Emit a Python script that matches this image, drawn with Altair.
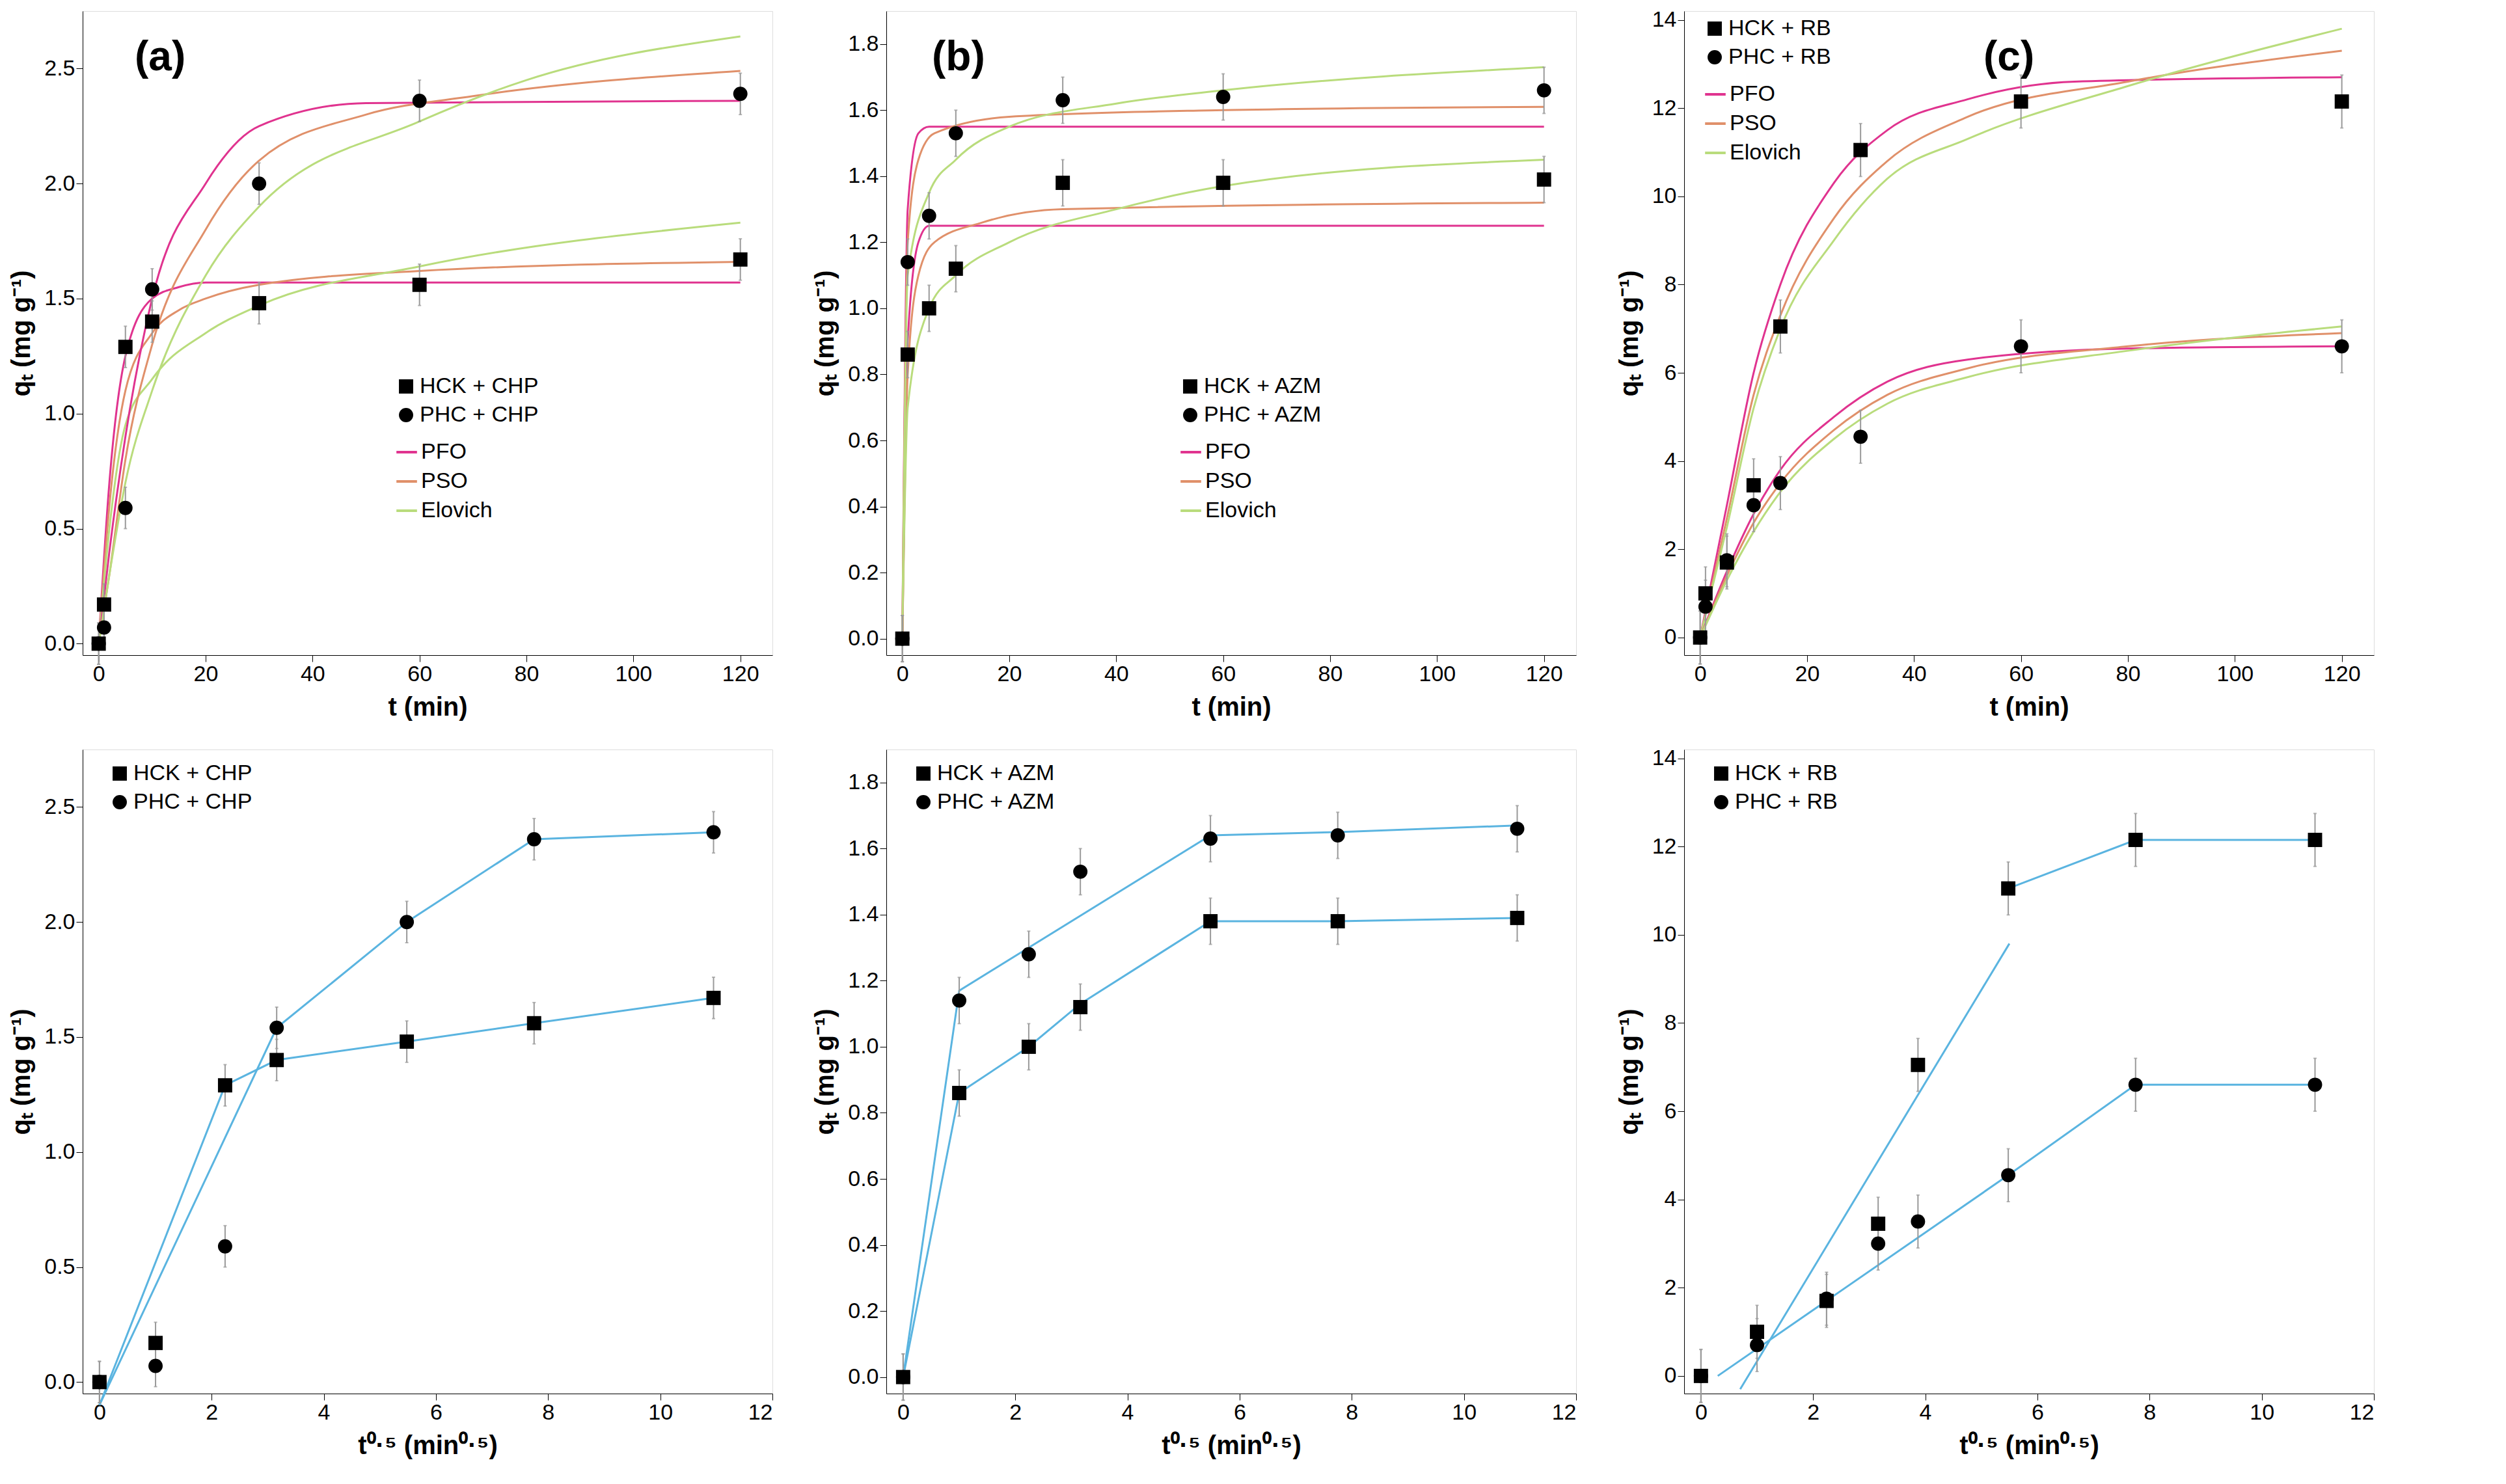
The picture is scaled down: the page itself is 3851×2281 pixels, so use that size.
import altair as alt
import pandas as pd

# ---- data ----
t = [0, 1, 5, 10, 30, 60, 120]
t_c = [0, 1, 5, 10, 15, 30, 60, 120]
sqt = [0, 1, 2.24, 3.16, 5.48, 7.75, 10.95]
sqt_c = [0, 1, 2.24, 3.16, 3.87, 5.48, 7.75, 10.95]

hck_chp = [0, 0.17, 1.29, 1.40, 1.48, 1.56, 1.67]
phc_chp = [0, 0.07, 0.59, 1.54, 2.00, 2.36, 2.39]
hck_azm = [0, 0.86, 1.00, 1.12, 1.38, 1.38, 1.39]
phc_azm = [0, 1.14, 1.28, 1.53, 1.63, 1.64, 1.66]
hck_rb = [0, 1.0, 1.7, 3.45, 7.05, 11.05, 12.15, 12.15]
phc_rb = [0, 0.7, 1.75, 3.0, 3.5, 4.55, 6.6, 6.6]
err_a, err_b, err_c = 0.09, 0.07, 0.6

# fitted curves (t, q)
curves_a = {
    ("HCK", "PFO"): ([0, 2, 5, 10, 15, 20, 30, 120], [0, 0.7, 1.25, 1.5, 1.55, 1.57, 1.57, 1.57]),
    ("HCK", "PSO"): ([0, 2, 5, 10, 15, 20, 30, 60, 120], [0, 0.6, 1.1, 1.35, 1.45, 1.5, 1.56, 1.62, 1.66]),
    ("HCK", "Elovich"): ([0, 2, 5, 10, 20, 30, 60, 120], [0, 0.5, 0.95, 1.15, 1.35, 1.47, 1.64, 1.83]),
    ("PHC", "PFO"): ([0, 2, 5, 10, 20, 30, 50, 120], [0, 0.4, 0.9, 1.5, 2.0, 2.25, 2.35, 2.36]),
    ("PHC", "PSO"): ([0, 2, 5, 10, 20, 30, 50, 70, 120], [0, 0.3, 0.8, 1.3, 1.8, 2.1, 2.3, 2.38, 2.49]),
    ("PHC", "Elovich"): ([0, 2, 5, 10, 20, 30, 60, 80, 120], [0, 0.3, 0.7, 1.1, 1.6, 1.9, 2.27, 2.45, 2.64]),
}
curves_b = {
    ("HCK", "PFO"): ([0, 1, 3, 5, 120], [0, 0.9, 1.2, 1.25, 1.25]),
    ("HCK", "PSO"): ([0, 1, 3, 6, 15, 30, 120], [0, 0.8, 1.1, 1.2, 1.26, 1.3, 1.32]),
    ("HCK", "Elovich"): ([0, 1, 5, 10, 20, 40, 60, 120], [0, 0.7, 1.0, 1.1, 1.2, 1.3, 1.37, 1.45]),
    ("PHC", "PFO"): ([0, 1, 3, 5, 120], [0, 1.3, 1.53, 1.55, 1.55]),
    ("PHC", "PSO"): ([0, 1, 3, 6, 20, 60, 120], [0, 1.2, 1.45, 1.53, 1.58, 1.6, 1.61]),
    ("PHC", "Elovich"): ([0, 1, 5, 10, 20, 40, 60, 120], [0, 1.1, 1.35, 1.45, 1.55, 1.62, 1.66, 1.73]),
}
tc = [0, 5, 10, 15, 25, 35, 50, 80, 120]
curves_c = {
    ("HCK", "PFO"): ([0, 5, 10, 15, 25, 35, 50, 70, 120], [0, 3, 6, 8, 10.3, 11.5, 12.2, 12.6, 12.7]),
    ("HCK", "PSO"): (tc, [0, 2.7, 5.5, 7.3, 9.5, 10.8, 11.8, 12.6, 13.3]),
    ("HCK", "Elovich"): (tc, [0, 2.5, 5.2, 7, 9, 10.4, 11.3, 12.5, 13.8]),
    ("PHC", "PFO"): (tc, [0, 1.5, 2.8, 3.8, 5, 5.8, 6.3, 6.55, 6.6]),
    ("PHC", "PSO"): (tc, [0, 1.4, 2.6, 3.5, 4.7, 5.5, 6.1, 6.6, 6.9]),
    ("PHC", "Elovich"): (tc, [0, 1.3, 2.4, 3.3, 4.5, 5.3, 5.9, 6.5, 7.05]),
}

# intraparticle diffusion segments (sqrt t, q)
ipd_a = {"s1": ([0, 2.24, 3.16, 5.48, 7.75, 10.95], [-0.1, 1.29, 1.40, 1.48, 1.56, 1.67]),
         "s2": ([0, 3.16, 5.48, 7.75, 10.95], [-0.1, 1.54, 2.0, 2.36, 2.39])}
ipd_b = {"s1": ([0, 1, 2.24, 3.16, 5.48, 7.75, 10.95], [0, 0.86, 1.0, 1.13, 1.38, 1.38, 1.39]),
         "s2": ([0, 1, 5.48, 7.75, 10.95], [0, 1.17, 1.64, 1.65, 1.67])}
ipd_c = {"s1": ([0.7, 5.5], [-0.3, 9.8]),
         "s2": ([5.48, 7.75, 10.95], [11.05, 12.15, 12.15]),
         "s3": ([0.3, 5.48, 7.75, 10.95], [0, 4.55, 6.6, 6.6])}

FONT = "Liberation Sans"
models = ["PFO", "PSO", "Elovich"]
model_colors = ["#e0338f", "#e0906a", "#b9dc7c"]
QT = "q\u209c (mg g\u207b\u00b9)"


def points_df(x, hck, phc, drug, err):
    rows = []
    for xi, a, b in zip(x, hck, phc):
        rows.append({"x": xi, "q": a, "s": "HCK + " + drug, "lo": a - err, "hi": a + err})
        rows.append({"x": xi, "q": b, "s": "PHC + " + drug, "lo": b - err, "hi": b + err})
    return pd.DataFrame(rows)


def axis(title, step, fmt):
    return alt.Axis(title=title, tickMinStep=step, format=fmt, grid=False,
                    labelFont=FONT, titleFont=FONT, labelFontSize=34, titleFontSize=40,
                    titleFontWeight="bold", tickSize=10, domainColor="black", titlePadding=14,
                    tickColor="black", labelColor="black", titleColor="black")


def legend(x, y, **kw):
    return alt.Legend(title=None, orient="none", legendX=x, legendY=y, labelLimit=0,
                      labelFont=FONT, labelFontSize=34, rowPadding=10, **kw)


def panel(x, hck, phc, drug, err, ydom, ystep, yfmt, xdom, xstep, xtitle,
          curves=None, segs=None, label=None, lx=0, ly=0, cx=0, cy=0):
    pts = points_df(x, hck, phc, drug, err)
    X = alt.X("x:Q", scale=alt.Scale(domain=xdom, nice=False), axis=axis(xtitle, xstep, "d"))
    Y = alt.Y("q:Q", scale=alt.Scale(domain=ydom, nice=False), axis=axis(QT, ystep, yfmt))
    layers = []
    if curves:
        rows = []
        for (s, m), (xs, qs) in curves.items():
            for xi, qi in zip(xs, qs):
                rows.append({"x": xi, "q": qi, "m": m, "g": s + m})
        layers.append(alt.Chart(pd.DataFrame(rows)).mark_line(interpolate="monotone", strokeWidth=3).encode(
            x=X, y=Y, detail="g:N",
            color=alt.Color("m:N", scale=alt.Scale(domain=models, range=model_colors),
                            legend=legend(cx, cy + 100, symbolType="stroke", symbolStrokeWidth=4,
                                          symbolSize=1000))))
    if segs:
        rows = []
        for g, (xs, qs) in segs.items():
            for xi, qi in zip(xs, qs):
                rows.append({"x": xi, "q": qi, "g": g})
        layers.append(alt.Chart(pd.DataFrame(rows)).mark_line(color="#5ab4e0", strokeWidth=3).encode(
            x=X, y=Y, detail="g:N"))
    layers.append(alt.Chart(pts).mark_errorbar(ticks=True, color="#999999", thickness=2).encode(
        x=X, y=alt.Y("lo:Q", scale=alt.Scale(domain=ydom, nice=False), axis=axis(QT, ystep, yfmt)),
        y2="hi:Q"))
    layers.append(alt.Chart(pts).mark_point(filled=True, size=480, opacity=1).encode(
        x=X, y=Y,
        shape=alt.Shape("s:N", scale=alt.Scale(domain=["HCK + " + drug, "PHC + " + drug],
                                               range=["square", "circle"]),
                        legend=legend(cx, cy, symbolFillColor="black", symbolStrokeColor="black",
                                      symbolSize=480)),
        color=alt.value("black")))
    if label:
        layers.append(alt.Chart(pd.DataFrame({"l": [label]})).mark_text(
            font=FONT, fontSize=64, fontWeight="bold", align="left", baseline="top").encode(
            text="l:N", x=alt.value(lx), y=alt.value(ly)))
    return alt.layer(*layers).resolve_scale(color="independent", shape="independent").properties(
        width=1060, height=990)


TX = "t (min)"
SX = "t\u2070\u00b7\u2075 (min\u2070\u00b7\u2075)"
pa = panel(t, hck_chp, phc_chp, "CHP", err_a, [-0.05, 2.75], 0.5, ".1f", [-3, 126], 20, TX,
           curves=curves_a, label="(a)", lx=80, ly=40, cx=480, cy=560)
pb = panel(t, hck_azm, phc_azm, "AZM", err_b, [-0.05, 1.9], 0.2, ".1f", [-3, 126], 20, TX,
           curves=curves_b, label="(b)", lx=70, ly=40, cx=450, cy=560)
pc = panel(t_c, hck_rb, phc_rb, "RB", err_c, [-0.4, 14.2], 2, "d", [-3, 126], 20, TX,
           curves=curves_c, label="(c)", lx=460, ly=40, cx=30, cy=10)
qa = panel(sqt, hck_chp, phc_chp, "CHP", err_a, [-0.05, 2.75], 0.5, ".1f", [-0.3, 12], 2, SX,
           segs=ipd_a, cx=40, cy=20)
qb = panel(sqt, hck_azm, phc_azm, "AZM", err_b, [-0.05, 1.9], 0.2, ".1f", [-0.3, 12], 2, SX,
           segs=ipd_b, cx=40, cy=20)
qc = panel(sqt_c, hck_rb, phc_rb, "RB", err_c, [-0.4, 14.2], 2, "d", [-0.3, 12], 2, SX,
           segs=ipd_c, cx=40, cy=20)

chart = alt.vconcat(
    alt.hconcat(pa, pb, pc, spacing=60),
    alt.hconcat(qa, qb, qc, spacing=60),
    spacing=40,
).configure_view(stroke="black", strokeWidth=2).configure(background="white")

chart.save("out.html", embed_options={"renderer": "svg", "actions": False})
